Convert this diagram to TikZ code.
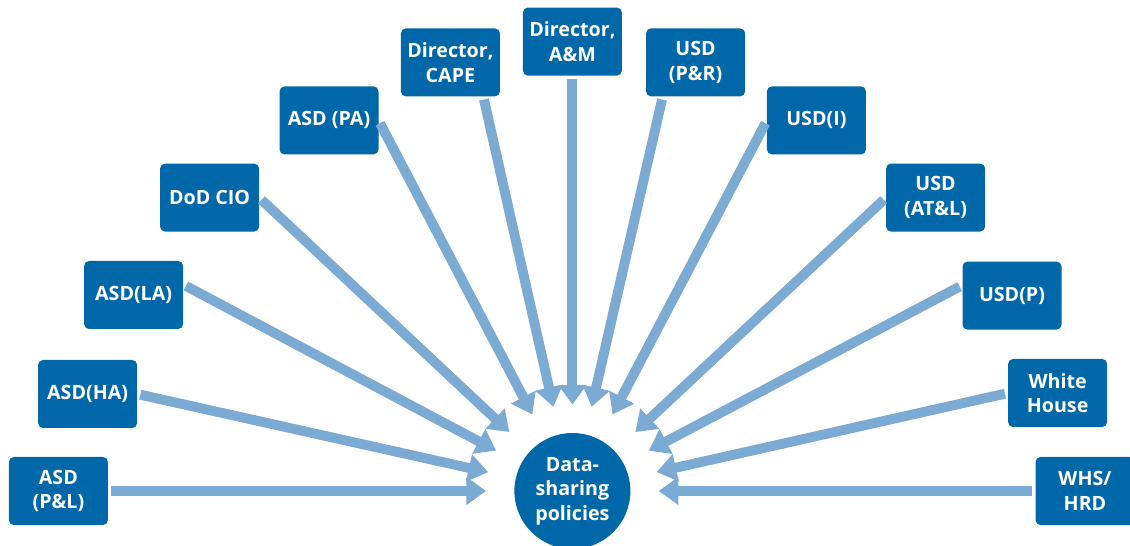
\documentclass[tikz,border=0pt]{standalone}
\usepackage{fontspec}
\setmainfont{Open Sans}
\usetikzlibrary{positioning}
\usetikzlibrary{arrows.meta}
\definecolor{boxblue}{RGB}{0,104,168}
\definecolor{arrowblue}{RGB}{123,170,211}

\begin{document}
\begin{tikzpicture}[
        office/.style={fill=boxblue, rounded corners=3.5pt, text=white, align=center,
            font=\bfseries\fontsize{14}{17.5}\selectfont,
            minimum width=2.475cm, minimum height=1.7cm, inner sep=2pt, outer sep=0pt},
        hub/.style={circle, fill=boxblue, text=white, align=center,
            font=\bfseries\fontsize{14}{17.5}\selectfont,
            minimum size=2.9cm, inner sep=0pt},
        feed/.style={-{Triangle[length=14pt,width=19pt]}, arrowblue, line width=7pt,
            shorten <=0.08cm, shorten >=0.7cm}]
        \useasboundingbox (0,0) rectangle (28.25,13.65);

        % nodes %
        \node[hub] (dsp) at (14.31,1.375) {Data-\\sharing\\policies};
        \node[office] (pl) at (1.46,1.375) {ASD\\(P\&L)};
        \node[office] (ha) at (2.19,3.8) {ASD(HA)};
        \node[office] (la) at (3.34,6.275) {ASD(LA)};
        \node[office] (cio) at (5.24,8.71) {DoD CIO};
        \node[office] (pa) at (8.225,10.64) {ASD (PA)};
        \node[office] (cape) at (11.26,12.09) {Director,\\CAPE};
        \node[office] (am) at (14.31,12.61) {Director,\\A\&M};
        \node[office] (pr) at (17.39,12.09) {USD\\(P\&R)};
        \node[office] (usdi) at (20.41,10.64) {USD(I)};
        \node[office] (atl) at (23.39,8.71) {USD\\(AT\&L)};
        \node[office] (usdp) at (25.3,6.26) {USD(P)};
        \node[office] (wh) at (26.44,3.825) {White\\House};
        \node[office] (whs) at (27.125,1.375) {WHS/\\HRD};

        % edges %
        \draw[feed] (pl.east) -- (dsp);
        \draw[feed] (ha.east) -- (dsp);
        \draw[feed] (la.12) -- (dsp);
        \draw[feed] (cio.east) -- (dsp);
        \draw[feed] (pa.east) -- (dsp);
        \draw[feed] (cape.-46) -- (dsp);
        \draw[feed] (am.south) -- (dsp);
        \draw[feed] (pr.-134) -- (dsp);
        \draw[feed] (usdi.west) -- (dsp);
        \draw[feed] (atl.west) -- (dsp);
        \draw[feed] (usdp.168) -- (dsp);
        \draw[feed] (wh.west) -- (dsp);
        \draw[feed] (whs.west) -- (dsp);
\end{tikzpicture}
\end{document}
